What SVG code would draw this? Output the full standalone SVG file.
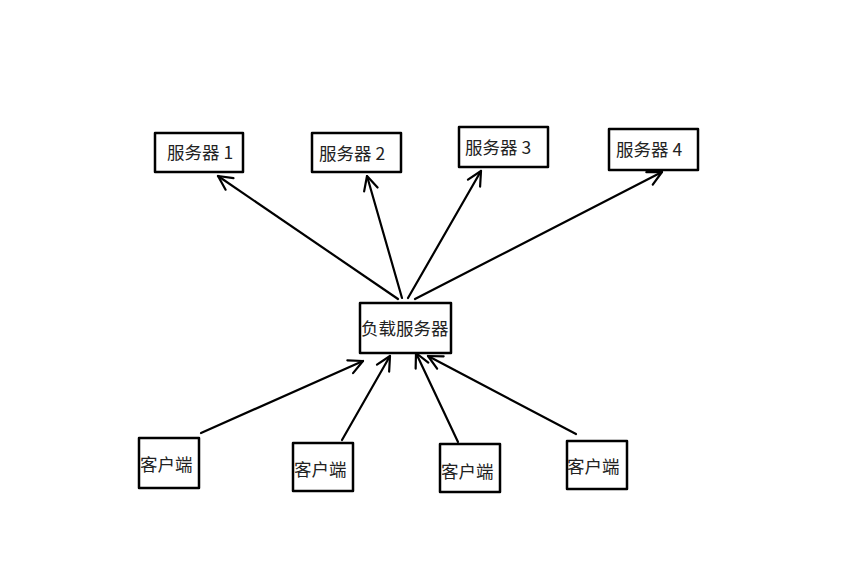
<svg xmlns="http://www.w3.org/2000/svg" width="865" height="577" viewBox="0 0 865 577">
<style>
.box{fill:#fff;stroke:#000;stroke-width:2.5;stroke-linejoin:round}
.t{font-family:"Noto Sans CJK SC","Liberation Sans",sans-serif;font-size:17.5px;fill:#222}
.c{stroke:#000;stroke-width:2.2;fill:none;stroke-linecap:round}
</style>
<defs>
<marker id="ah" viewBox="0 0 20 20" refX="18" refY="10" markerWidth="20" markerHeight="20" markerUnits="userSpaceOnUse" orient="auto">
<polyline points="4,3 18,10 4,17" fill="none" stroke="#000" stroke-width="2.2" stroke-linecap="round" stroke-linejoin="round"/>
</marker>
</defs>
<rect width="865" height="577" fill="#fff"/>
<g id="connectors">
<line class="c" x1="398" y1="299" x2="218" y2="176" marker-end="url(#ah)"/>
<line class="c" x1="402" y1="298" x2="367" y2="176" marker-end="url(#ah)"/>
<line class="c" x1="408" y1="298" x2="481" y2="171" marker-end="url(#ah)"/>
<line class="c" x1="415" y1="299" x2="662" y2="172" marker-end="url(#ah)"/>
<line class="c" x1="201" y1="433" x2="363" y2="361" marker-end="url(#ah)"/>
<line class="c" x1="342" y1="440" x2="390" y2="356" marker-end="url(#ah)"/>
<line class="c" x1="458" y1="442" x2="416" y2="353" marker-end="url(#ah)"/>
<line class="c" x1="576" y1="434" x2="428" y2="356" marker-end="url(#ah)"/>
</g>
<g id="server1"><rect class="box" x="155" y="133" width="88" height="39"/><text class="t" x="167" y="159">服务器 1</text></g>
<g id="server2"><rect class="box" x="312" y="133" width="89" height="39"/><text class="t" x="319" y="160">服务器 2</text></g>
<g id="server3"><rect class="box" x="459" y="127" width="89" height="40"/><text class="t" x="465" y="154">服务器 3</text></g>
<g id="server4"><rect class="box" x="609" y="129" width="89" height="41"/><text class="t" x="616" y="156">服务器 4</text></g>
<g id="lb"><rect class="box" x="360" y="303" width="91" height="50"/><text class="t" x="361" y="335">负载服务器</text></g>
<g id="client1"><rect class="box" x="139" y="438" width="60" height="50"/><text class="t" x="140" y="471">客户端</text></g>
<g id="client2"><rect class="box" x="293" y="443" width="60" height="48"/><text class="t" x="294" y="476">客户端</text></g>
<g id="client3"><rect class="box" x="440" y="444" width="60" height="48"/><text class="t" x="441" y="478">客户端</text></g>
<g id="client4"><rect class="box" x="567" y="441" width="60" height="48"/><text class="t" x="567" y="473">客户端</text></g>
</svg>
